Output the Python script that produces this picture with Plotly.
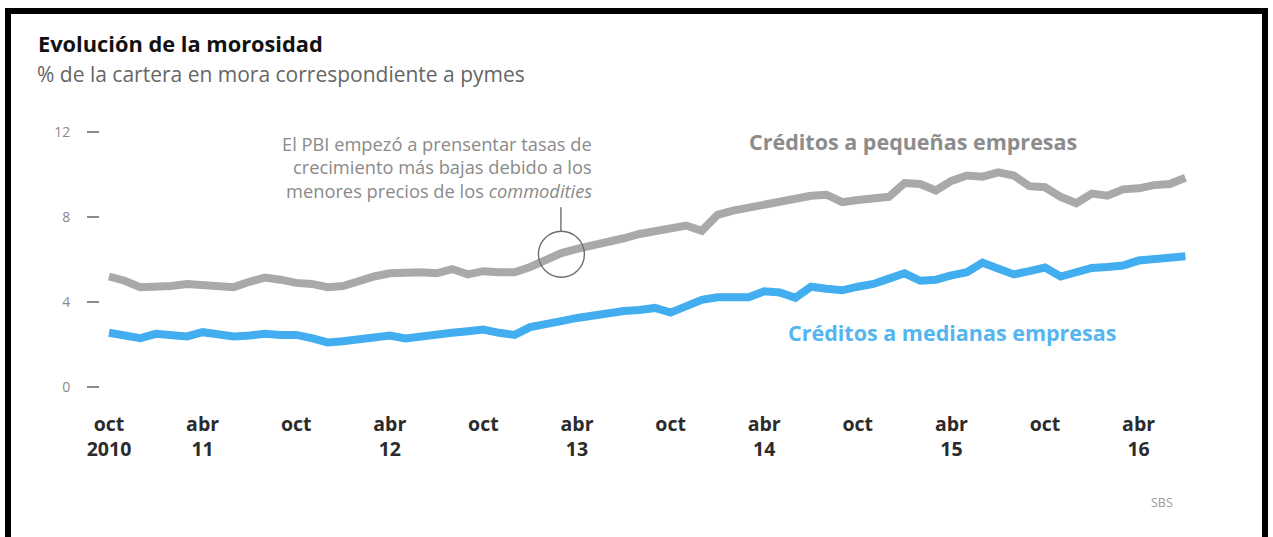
import plotly.graph_objects as go

# Monthly non-performing loan ratio (% of SME portfolio), Oct 2010 - Jul 2016
meses = list(range(70))  # 0 = oct 2010
pequenas = [
    5.2, 5.0, 4.7, 4.7, 4.75, 4.85, 4.8, 4.72, 4.7, 4.95,
    5.15, 5.05, 4.9, 4.85, 4.7, 4.75, 5.0, 5.2, 5.35, 5.4,
    5.4, 5.35, 5.55, 5.3, 5.45, 5.4, 5.4, 5.65, 6.0, 6.3,
    6.5, 6.65, 6.8, 7.0, 7.2, 7.35, 7.5, 7.6, 7.35, 8.1,
    8.3, 8.45, 8.6, 8.7, 8.85, 9.0, 9.05, 8.7, 8.8, 8.9,
    8.95, 9.6, 9.55, 9.25, 9.7, 9.95, 9.9, 10.1, 9.95, 9.45,
    9.4, 8.95, 8.65, 9.1, 9.0, 9.3, 9.35, 9.5, 9.55, 9.85,
]
medianas = [
    2.55, 2.45, 2.3, 2.5, 2.48, 2.38, 2.58, 2.5, 2.38, 2.42,
    2.5, 2.45, 2.45, 2.3, 2.1, 2.15, 2.25, 2.3, 2.42, 2.28,
    2.4, 2.52, 2.55, 2.62, 2.7, 2.55, 2.45, 2.82, 3.0, 3.1,
    3.25, 3.38, 3.5, 3.58, 3.62, 3.72, 3.5, 3.8, 4.1, 4.22,
    4.2, 4.22, 4.5, 4.45, 4.2, 4.72, 4.62, 4.55, 4.72, 4.85,
    5.1, 5.35, 5.0, 5.05, 5.25, 5.4, 5.85, 5.55, 5.3, 5.45,
    5.62, 5.2, 5.4, 5.6, 5.65, 5.72, 5.95, 6.0, 6.05, 6.15,
]

tick_meses = [0, 6, 12, 18, 24, 30, 36, 42, 48, 54, 60, 66]
tick_textos = ["oct<br>2010", "abr<br>11", "oct", "abr<br>12", "oct", "abr<br>13",
               "oct", "abr<br>14", "oct", "abr<br>15", "oct", "abr<br>16"]
y_ticks = [0, 4, 8, 12]

# index of the month highlighted by the annotation (mar 2013)
idx_nota = 29

W, H = 1273, 537
L, R, T, B = 100, 73, 110, 137
PW, PH = W - L - R, H - T - B


def px(x):
    return (x - L) / PW


def py(y):
    return (H - B - y) / PH


GRIS = "#a9a9a9"
AZUL = "#42adef"
FONT = "Open Sans"

fig = go.Figure()
fig.add_trace(go.Scatter(x=meses, y=pequenas, mode="lines",
                         line=dict(color=GRIS, width=8), hoverinfo="skip"))
fig.add_trace(go.Scatter(x=meses, y=medianas, mode="lines",
                         line=dict(color=AZUL, width=8), hoverinfo="skip"))

annotations = [
    dict(text="<b>Evolución de la morosidad</b>", x=px(36), y=py(43),
         font=dict(family=FONT, size=21.8, color="#111111")),
    dict(text="% de la cartera en mora correspondiente a pymes", x=px(35), y=py(74),
         font=dict(family=FONT, size=21, color="#666666")),
    dict(text="SBS", x=px(1149), y=py(502),
         font=dict(family=FONT, size=12.5, color="#9a9a9a")),
]
for a in annotations:
    a.update(xref="paper", yref="paper", xanchor="left", yanchor="middle",
             showarrow=False)

nota = ["El PBI empezó a prensentar tasas de",
        "crecimiento más bajas debido a los",
        "menores precios de los <i>commodities</i>"]
for i, linea in enumerate(nota):
    annotations.append(dict(text=linea, xref="paper", yref="paper",
                            x=px(594), y=py(143 + i * 23.5),
                            xanchor="right", yanchor="middle", showarrow=False,
                            font=dict(family=FONT, size=18.3, color="#8a8a8a")))

annotations += [
    dict(text="<b>Créditos a pequeñas empresas</b>", xref="paper", yref="paper",
         x=px(913), y=py(141), xanchor="center", yanchor="middle", showarrow=False,
         font=dict(family=FONT, size=21.5, color="#8c8c8c")),
    dict(text="<b>Créditos a medianas empresas</b>", xref="paper", yref="paper",
         x=px(952), y=py(332), xanchor="center", yanchor="middle", showarrow=False,
         font=dict(family=FONT, size=21.5, color="#55b5f0")),
]

shapes = [
    # outer frame
    dict(type="rect", xref="paper", yref="paper",
         x0=px(8), x1=px(1265), y0=py(560), y1=py(11),
         line=dict(color="black", width=6), fillcolor="rgba(0,0,0,0)", layer="above"),
    # circle around the highlighted month
    dict(type="circle", xref="x", yref="y", xsizemode="pixel", ysizemode="pixel",
         xanchor=meses[idx_nota], yanchor=pequenas[idx_nota] - 0.05,
         x0=-23, x1=23, y0=-23, y1=23,
         line=dict(color="#6e6e6e", width=1.4), layer="above"),
    # leader from the note to the circle
    dict(type="line", xref="x", yref="y", xsizemode="pixel", ysizemode="pixel",
         xanchor=meses[idx_nota], yanchor=pequenas[idx_nota] - 0.05,
         x0=-0.5, x1=-0.5, y0=23, y1=47,
         line=dict(color="#6e6e6e", width=1.4), layer="above"),
]

fig.update_layout(
    width=W, height=H,
    margin=dict(l=L, r=R, t=T, b=B, pad=0),
    paper_bgcolor="white", plot_bgcolor="white",
    showlegend=False,
    annotations=annotations,
    shapes=shapes,
    xaxis=dict(
        range=[(L - 109) / 15.6, (W - R - 109) / 15.6],
        tickvals=tick_meses, ticktext=[f"<b>{t}</b>" for t in tick_textos],
        showgrid=False, zeroline=False, showline=False, ticks="",
        ticklabelstandoff=10,
        tickfont=dict(family=FONT, size=19.5, color="#2b2b2b"),
        fixedrange=True,
    ),
    yaxis=dict(
        range=[(387 - (H - B)) / 21.25, (387 - T) / 21.25],
        tickvals=y_ticks,
        showgrid=False, zeroline=False, showline=False,
        ticks="outside", ticklen=12, tickwidth=1.5, tickcolor="#8a8a8a",
        ticklabelstandoff=14,
        tickfont=dict(family=FONT, size=14, color="#8a8a8a"),
        fixedrange=True,
    ),
)

fig.write_html("out.html")
